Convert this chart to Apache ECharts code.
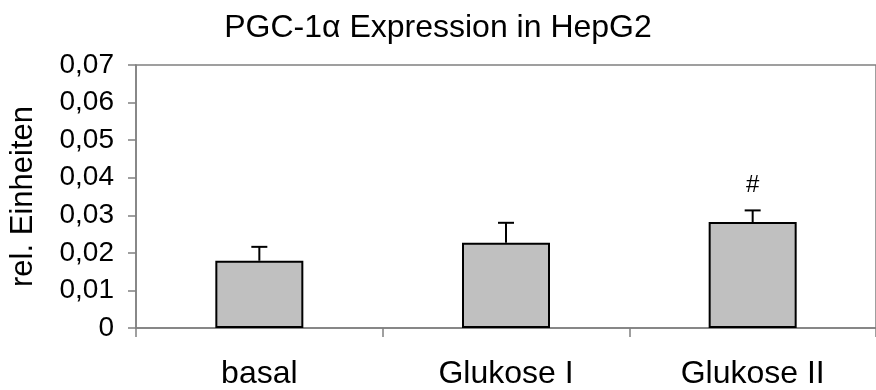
<!DOCTYPE html>
<html>
<head>
<meta charset="utf-8">
<script src="https://cdn.jsdelivr.net/npm/echarts@6/dist/echarts.min.js"></script>
<style>html,body{margin:0;padding:0;background:#fff}#c{width:876px;height:390px}</style>
</head>
<body>
<div id="c"></div>
<script>
var titleText = 'PGC-1α Expression in HepG2';
var yAxisName = 'rel. Einheiten';
var categories = ['basal', 'Glukose I', 'Glukose II'];
var values = [0.0179, 0.0227, 0.0282];
var errors = [0.0037, 0.0053, 0.0031];
var marks = ['', '', '#'];
var yTicks = [0, 0.01, 0.02, 0.03, 0.04, 0.05, 0.06, 0.07];

var FONT = '"Liberation Sans", Arial, sans-serif';
var chart = echarts.init(document.getElementById('c'), null, {renderer: 'canvas'});
var errData = categories.map(function (c, i) { return [i, values[i], values[i] + errors[i], marks[i]]; });

chart.setOption({
  animation: false,
  backgroundColor: '#fff',
  title: {
    text: titleText, left: 'center', top: 7,
    textStyle: {fontFamily: FONT, fontSize: 32, fontWeight: 'normal', color: '#000'}
  },
  grid: {left: 135, top: 65, width: 755, height: 265, show: true, borderColor: '#808080', borderWidth: 1.5, backgroundColor: 'transparent'},
  xAxis: {
    type: 'category', data: categories,
    axisLine: {lineStyle: {color: '#808080', width: 1.5}},
    axisTick: {show: true, length: 9, lineStyle: {color: '#808080', width: 1.5}},
    axisLabel: {fontFamily: FONT, fontSize: 32, color: '#000', margin: 30}
  },
  yAxis: {
    type: 'value', min: yTicks[0], max: yTicks[yTicks.length - 1], interval: 0.01,
    name: yAxisName, nameLocation: 'middle', nameGap: 97,
    nameTextStyle: {fontFamily: FONT, fontSize: 31, color: '#000'},
    splitLine: {show: false},
    axisLine: {show: true, lineStyle: {color: '#808080', width: 1.5}},
    axisTick: {show: true, length: 8, lineStyle: {color: '#808080', width: 1.5}},
    axisLabel: {
      fontFamily: FONT, fontSize: 28, color: '#000', margin: 22,
      formatter: function (v) { return v === 0 ? '0' : v.toFixed(2).replace('.', ','); }
    }
  },
  series: [
    {
      type: 'bar', data: values, barWidth: 88,
      itemStyle: {color: '#c0c0c0', borderColor: '#000', borderWidth: 2}
    },
    {
      type: 'custom', data: errData, z: 5,
      renderItem: function (params, api) {
        var x = api.value(0);
        var top = api.coord([x, api.value(2)]);
        var base = api.coord([x, api.value(1)]);
        var hw = 8;
        var children = [
          {type: 'line', shape: {x1: top[0], y1: base[1], x2: top[0], y2: top[1]}, style: {stroke: '#000', lineWidth: 2}},
          {type: 'line', shape: {x1: top[0] - hw, y1: top[1], x2: top[0] + hw, y2: top[1]}, style: {stroke: '#000', lineWidth: 2}}
        ];
        var m = errData[params.dataIndex][3];
        if (m) {
          children.push({type: 'text', style: {text: m, x: top[0], y: top[1] - 25, align: 'center', verticalAlign: 'middle', font: '24px ' + FONT, fill: '#000'}});
        }
        return {type: 'group', children: children};
      }
    }
  ]
});
</script>
</body>
</html>
